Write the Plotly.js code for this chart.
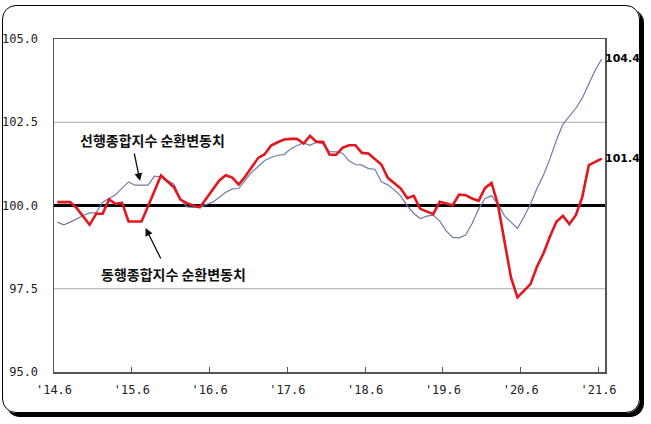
<!DOCTYPE html>
<html>
<head>
<meta charset="utf-8">
<script src="https://cdn.plot.ly/plotly-3.0.1.min.js"></script>
<style>
  html, body { margin: 0; padding: 0; background: #fff; }
  #wrap { position: relative; width: 651px; height: 424px; overflow: hidden; }
  #frame { position: absolute; left: 2px; top: 5px; width: 636px; height: 406px;
           border: 1.5px solid #000; border-radius: 14px; box-shadow: 4px 4px 0 #000; }
  #chart { position: absolute; left: 0; top: 0; width: 651px; height: 424px; }
</style>
</head>
<body>
<div id="wrap"><div id="frame"></div><div id="chart"></div></div>
<script>
// Leading composite index, cyclical component (선행종합지수 순환변동치), '14.6 – '21.6 monthly
const leading = [
  99.5, 99.42, 99.5, 99.61, 99.7, 99.78, 99.78, 100.1, 100.22, 100.32,
  100.52, 100.71, 100.61, 100.61, 100.61, 100.88, 100.86, 100.76, 100.64, 100.2,
  99.96, 99.94, 99.94, 100.03, 100.1, 100.25, 100.4, 100.5, 100.51, 100.76,
  101.0, 101.17, 101.35, 101.44, 101.51, 101.53, 101.7, 101.8, 101.88, 101.81,
  101.9, 101.85, 101.62, 101.61, 101.57, 101.34, 101.23, 101.21, 101.11, 101.09,
  100.71, 100.62, 100.47, 100.28, 99.99, 99.76, 99.61, 99.68, 99.71, 99.54,
  99.24, 99.04, 99.03, 99.11, 99.46, 99.9, 100.21, 100.29, 100.04, 99.69,
  99.5, 99.31, 99.66, 100.04, 100.51, 100.91, 101.4, 101.96, 102.44, 102.68,
  102.92, 103.23, 103.67, 104.07, 104.4
];
// Coincident composite index, cyclical component (동행종합지수 순환변동치)
const coincident = [
  100.1, 100.1, 100.1, 99.92, 99.67, 99.42, 99.75, 99.75, 100.18, 100.05,
  100.08, 99.52, 99.52, 99.52, 99.97, 100.43, 100.9, 100.72, 100.55, 100.18,
  100.07, 100.0, 99.95, 100.21, 100.48, 100.75, 100.91, 100.84, 100.63, 100.87,
  101.15, 101.43, 101.54, 101.8, 101.9, 101.98, 102.0, 102.0, 101.86, 102.09,
  101.91, 101.91, 101.53, 101.52, 101.73, 101.81, 101.81, 101.58, 101.56, 101.39,
  101.23, 100.83, 100.68, 100.51, 100.22, 100.29, 99.9, 99.81, 99.74, 100.11,
  100.05, 100.01, 100.33, 100.31, 100.21, 100.14, 100.53, 100.68, 100.01, 98.91,
  97.83, 97.24, 97.44, 97.64, 98.16, 98.56, 99.06, 99.51, 99.69, 99.44,
  99.71, 100.26, 101.21, 101.31, 101.41
];
const tickLabels = ["'14.6", "'15.6", "'16.6", "'17.6", "'18.6", "'19.6", "'20.6", "'21.6"];
const yTicks = [95, 97.5, 100, 102.5, 105];
const gridValues = [97.5, 102.5];
const baseline = 100;
const leadingName = "선행종합지수 순환변동치";
const coincidentName = "동행종합지수 순환변동치";

const idx = leading.map((_, i) => i);
const tickvals = tickLabels.map((_, k) => k * 12 - 0.5);
const nLast = leading.length - 1;

// plot area in pixels: x 54..605, y 39..372
const W = 651, H = 424, L = 54, R = 46, T = 39, B = 52;
const pw = W - L - R, ph = H - T - B;
const px = x => (x - L) / pw;
const py = y => (H - B - y) / ph;

const traces = [
  { x: idx, y: leading, type: 'scatter', mode: 'lines', name: leadingName,
    line: { color: '#6e7bab', width: 1.2 }, hoverinfo: 'skip' },
  { x: idx, y: coincident, type: 'scatter', mode: 'lines', name: coincidentName,
    line: { color: '#e3161e', width: 2.6 }, hoverinfo: 'skip' }
];

const endFont = { family: 'DejaVu Sans, sans-serif', size: 11, color: '#000', weight: 'bold' };
const noteFont = { family: 'Noto Sans CJK KR, sans-serif', size: 14, color: '#111', weight: 'bold' };

const shapes = gridValues.map(v => ({
  type: 'line', xref: 'paper', yref: 'y', x0: 0, x1: 1, y0: v, y1: v,
  line: { color: '#a8a8a8', width: 1 }, layer: 'below'
}));
shapes.push({ type: 'line', xref: 'paper', yref: 'y', x0: 0, x1: 1, y0: baseline, y1: baseline,
  line: { color: '#000', width: 3.2 }, layer: 'between' });

const layout = {
  width: W, height: H,
  margin: { l: L, r: R, t: T, b: B, pad: 0 },
  paper_bgcolor: 'rgba(0,0,0,0)',
  plot_bgcolor: '#fff',
  showlegend: false,
  font: { family: 'DejaVu Sans Mono, monospace', size: 12, color: '#222' },
  xaxis: {
    range: [-0.5, nLast + 0.5],
    tickvals: tickvals, ticktext: tickLabels,
    ticks: 'inside', ticklen: 5, tickwidth: 1, tickcolor: '#555',
    showline: true, linecolor: '#555', linewidth: 1.5, mirror: true,
    showgrid: false, zeroline: false,
    ticklabelstandoff: 6,
    tickfont: { family: 'DejaVu Sans Mono, monospace', size: 12, color: '#222' }
  },
  yaxis: {
    range: [95, 105],
    tickvals: yTicks, tickformat: '.1f',
    ticks: '', showline: true, linecolor: '#555', linewidth: 1.5, mirror: true,
    showgrid: false, zeroline: false,
    ticklabelstandoff: 12,
    tickfont: { family: 'DejaVu Sans Mono, monospace', size: 12, color: '#222' }
  },
  shapes: shapes,
  annotations: [
    { xref: 'x', yref: 'y', x: nLast, y: leading[nLast], text: leading[nLast].toFixed(1),
      showarrow: false, xanchor: 'left', xshift: 1, font: endFont },
    { xref: 'x', yref: 'y', x: nLast, y: coincident[nLast], text: coincident[nLast].toFixed(1),
      showarrow: false, xanchor: 'left', xshift: 1, font: endFont },
    { xref: 'paper', yref: 'paper', x: px(152), y: py(140), text: leadingName,
      showarrow: false, xanchor: 'center', yanchor: 'middle', font: noteFont },
    { xref: 'paper', yref: 'paper', x: px(173), y: py(274), text: coincidentName,
      showarrow: false, xanchor: 'center', yanchor: 'middle', font: noteFont },
    { xref: 'paper', yref: 'paper', x: px(140), y: py(181), text: '',
      showarrow: true, arrowhead: 2, arrowsize: 1.2, arrowwidth: 1.3, arrowcolor: '#111',
      ax: -6, ay: -29 },
    { xref: 'paper', yref: 'paper', x: px(145.5), y: py(228), text: '',
      showarrow: true, arrowhead: 2, arrowsize: 1.2, arrowwidth: 1.3, arrowcolor: '#111',
      ax: 16, ay: 32 }
  ]
};

Plotly.newPlot('chart', traces, layout, { staticPlot: true, displayModeBar: false });
</script>
</body>
</html>
